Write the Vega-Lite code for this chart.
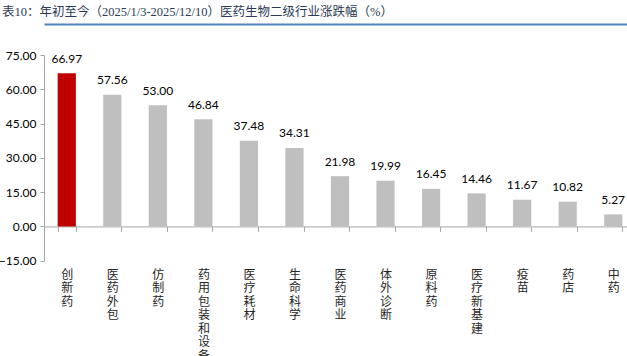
{
  "$schema": "https://vega.github.io/schema/vega-lite/v6.json",
  "width": 583,
  "height": 205.7,
  "autosize": "none",
  "padding": {"left": 44, "top": 55, "right": 0, "bottom": 95.3},
  "background": "white",
  "title": {
    "text": "表10：年初至今（2025/1/3-2025/12/10）医药生物二级行业涨跌幅（%）",
    "anchor": "start",
    "frame": "group",
    "dx": -42,
    "offset": 6,
    "font": "Liberation Serif, Noto Sans CJK SC",
    "fontSize": 12.5,
    "fontWeight": "normal",
    "color": "#2B3A55"
  },
  "config": {
    "view": {"stroke": null},
    "axis": {"grid": false},
    "axisY": {"labelOverlap": false}
  },
  "data": {
    "values": [
      {"name": "创新药", "value": 66.97},
      {"name": "医药外包", "value": 57.56},
      {"name": "仿制药", "value": 53.00},
      {"name": "药用包装和设备", "value": 46.84},
      {"name": "医疗耗材", "value": 37.48},
      {"name": "生命科学", "value": 34.31},
      {"name": "医药商业", "value": 21.98},
      {"name": "体外诊断", "value": 19.99},
      {"name": "原料药", "value": 16.45},
      {"name": "医疗新基建", "value": 14.46},
      {"name": "疫苗", "value": 11.67},
      {"name": "药店", "value": 10.82},
      {"name": "中药", "value": 5.27}
    ]
  },
  "encoding": {
    "y": {
      "field": "value",
      "type": "quantitative",
      "scale": {"domain": [-15, 75], "nice": false, "zero": false},
      "axis": {
        "title": null,
        "values": [-15, 0, 15, 30, 45, 60, 75],
        "format": ".2f",
        "labelFont": "Lato",
        "labelFontSize": 12,
        "labelColor": "#000000",
        "labelPadding": 4,
        "labelOverlap": false,
        "labelFlush": false,
        "labelBound": false,
        "labelSeparation": 0,
        "tickSize": 4,
        "tickColor": "#A6A6A6",
        "domainColor": "#A6A6A6"
      }
    }
  },
  "resolve": {"axis": {"x": "independent"}},
  "layer": [
    {
      "mark": {"type": "bar"},
      "encoding": {
        "x": {
          "field": "name",
          "type": "nominal",
          "sort": null,
          "scale": {"range": [0, 592], "paddingInner": 0.6, "paddingOuter": 0.3},
          "axis": {
            "title": null,
            "orient": "bottom",
            "offset": -34.3,
            "labelAngle": 0,
            "labelExpr": "split(datum.label, '')",
            "labelFont": "Noto Sans CJK SC",
            "labelFontSize": 12,
            "labelLineHeight": 13.5,
            "labelBaseline": "top",
            "labelPadding": 38,
            "labelColor": "#262626",
            "labelOverlap": false,
            "labelBound": false,
            "labelFlush": false,
            "tickBand": "extent",
            "tickSize": 5,
            "tickColor": "#A6A6A6",
            "domainColor": "#A6A6A6"
          }
        },
        "color": {
          "condition": {"test": "datum.name === '创新药'", "value": "#C00000"},
          "value": "#BFBFBF"
        }
      }
    },
    {
      "mark": {"type": "text", "baseline": "alphabetic", "dy": -10.5, "font": "Lato", "fontSize": 12, "color": "#000000"},
      "encoding": {
        "x": {
          "field": "name",
          "type": "nominal",
          "sort": null,
          "axis": {
            "orient": "top",
            "offset": 31,
            "title": null,
            "labels": false,
            "ticks": false,
            "domainColor": "#4F81BD",
            "domainWidth": 2
          }
        },
        "text": {"field": "value", "type": "quantitative", "format": ".2f"}
      }
    }
  ]
}
